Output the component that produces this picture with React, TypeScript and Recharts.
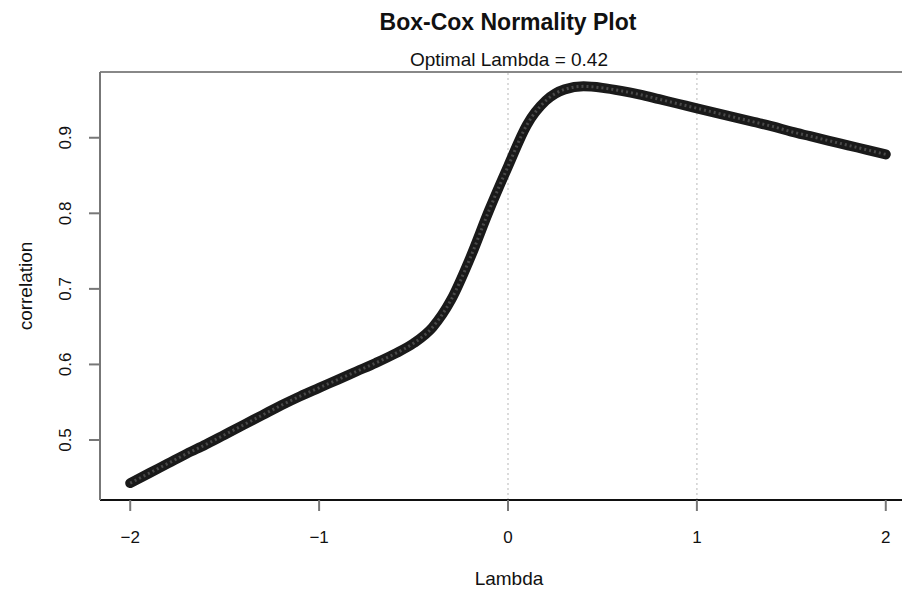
import React from "react";
import { LineChart, Line, XAxis, YAxis, ReferenceLine } from "recharts";

const lambdaValues = [
  -2.0, -1.9, -1.8, -1.7, -1.6, -1.5, -1.4, -1.3, -1.2, -1.1, -1.0,
  -0.9, -0.8, -0.7, -0.6, -0.5, -0.4, -0.3, -0.2, -0.1, 0.0,
  0.1, 0.2, 0.3, 0.4, 0.5, 0.6, 0.7, 0.8, 0.9, 1.0,
  1.1, 1.2, 1.3, 1.4, 1.5, 1.6, 1.7, 1.8, 1.9, 2.0,
];
const correlationValues = [
  0.443, 0.456, 0.469, 0.482, 0.494, 0.507, 0.52, 0.533, 0.546, 0.558, 0.569,
  0.58, 0.591, 0.602, 0.614, 0.628, 0.649, 0.686, 0.741, 0.804, 0.862,
  0.917, 0.949, 0.964, 0.968, 0.966, 0.962, 0.957, 0.951, 0.945, 0.939,
  0.933, 0.927, 0.921, 0.915, 0.908, 0.902, 0.896, 0.89, 0.884, 0.878,
];
const xTicks = [-2, -1, 0, 1, 2];
const yTicks = [0.5, 0.6, 0.7, 0.8, 0.9];
const gridX = [0, 1];
const titleText = "Box-Cox Normality Plot";
const subtitleText = "Optimal Lambda = 0.42";
const xLabel = "Lambda";
const yLabel = "correlation";

const data = lambdaValues.map((l, i) => ({ lambda: l, correlation: correlationValues[i] }));

const FONT = "'Liberation Sans', Arial, Helvetica, sans-serif";

const fmtX = (v: number) => (v < 0 ? "\u2212" + Math.abs(v) : String(v));

const XTick = (props: any) => {
  const { x, payload } = props;
  return (
    <text x={x} y={537} textAnchor="middle" dominantBaseline="central" fontSize={17} fill="#111" fontFamily={FONT}>
      {fmtX(payload.value)}
    </text>
  );
};

const YTick = (props: any) => {
  const { y, payload } = props;
  return (
    <text
      x={66}
      y={y}
      transform={`rotate(-90 66 ${y})`}
      textAnchor="middle"
      dominantBaseline="central"
      fontSize={17}
      fill="#111"
      fontFamily={FONT}
    >
      {Number(payload.value).toFixed(1)}
    </text>
  );
};

export default function App() {
  return (
    <div
      style={{
        position: "fixed",
        left: 0,
        top: 0,
        width: 902,
        height: 590,
        overflow: "hidden",
        background: "#fff",
        fontFamily: FONT,
      }}
    >
      <LineChart width={920} height={590} data={data} margin={{ top: 72, right: 4, bottom: 40, left: 0 }}>
        <XAxis
          type="number"
          dataKey="lambda"
          domain={[-2.16, 2.16]}
          ticks={xTicks}
          allowDataOverflow
          height={50}
          tickSize={11}
          tickLine={{ stroke: "#777", strokeWidth: 2 }}
          axisLine={{ stroke: "#111", strokeWidth: 2 }}
          tick={<XTick />}
        />
        <YAxis
          type="number"
          domain={[0.4206, 0.987]}
          ticks={yTicks}
          allowDataOverflow
          width={100}
          tickSize={11}
          tickLine={{ stroke: "#777", strokeWidth: 2 }}
          axisLine={{ stroke: "#777", strokeWidth: 2 }}
          tick={<YTick />}
        />
        {gridX.map((g) => (
          <ReferenceLine key={g} x={g} stroke="#d0d0d0" strokeWidth={1.5} strokeDasharray="2 3" />
        ))}
        <ReferenceLine y={0.987} stroke="#888" strokeWidth={2} />
        <Line
          dataKey="correlation"
          type="monotone"
          stroke="#1a1a1a"
          strokeWidth={10}
          strokeLinecap="round"
          dot={false}
          isAnimationActive={false}
        />
        <Line
          dataKey="correlation"
          type="monotone"
          stroke="#4a4a4a"
          strokeWidth={3}
          strokeDasharray="2 3"
          dot={false}
          isAnimationActive={false}
        />
      </LineChart>
      <svg width={902} height={590} style={{ position: "absolute", left: 0, top: 0, pointerEvents: "none" }}>
        <text x={508} y={22} textAnchor="middle" dominantBaseline="central" fontSize={23} fontWeight="bold" fill="#111" fontFamily={FONT}>
          {titleText}
        </text>
        <text x={509} y={59} textAnchor="middle" dominantBaseline="central" fontSize={19} fill="#111" fontFamily={FONT}>
          {subtitleText}
        </text>
        <text x={509} y={578} textAnchor="middle" dominantBaseline="central" fontSize={19} fill="#111" fontFamily={FONT}>
          {xLabel}
        </text>
        <text
          x={25}
          y={286}
          transform="rotate(-90 25 286)"
          textAnchor="middle"
          dominantBaseline="central"
          fontSize={19}
          fill="#111"
          fontFamily={FONT}
        >
          {yLabel}
        </text>
      </svg>
    </div>
  );
}
